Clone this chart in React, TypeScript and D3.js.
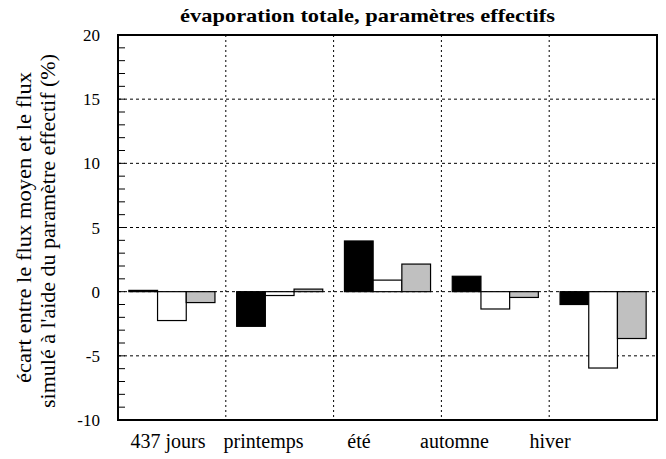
import React from "react";
import * as d3 from "d3";

const categories = ["437 jours", "printemps", "été", "automne", "hiver"];
const seriesNames = ["s1", "s2", "s3"];
const s1 = [0.1, -2.7, 3.95, 1.2, -1.0];
const s2 = [-2.25, -0.3, 0.9, -1.35, -5.95];
const s3 = [-0.85, 0.2, 2.15, -0.45, -3.65];
const majorTicks = [-10, -5, 0, 5, 10, 15, 20];
const gridY = [-5, 0, 5, 10, 15];
const fills = ["#000000", "#ffffff", "#c0c0c0"];

const W = 666, H = 459;
const L = 118, R = 657, T = 35, B = 420;
const serif = "Liberation Serif, Tinos, Times New Roman, DejaVu Serif, serif";

export default function App() {
  const x = d3.scaleBand<string>().domain(categories).range([L, R]).padding(0);
  const xi = d3.scaleBand<string>().domain(seriesNames).range([0, x.bandwidth()]).paddingInner(0).paddingOuter(0.378);
  const xl = d3.scalePoint<string>().domain(categories).range([168, 550]);
  const y = d3.scaleLinear().domain([-10, 20]).range([B, T]);
  const minor = d3.range(-10, 21, 1);
  const data = [s1, s2, s3];
  return (
    <svg width={W} height={H} style={{ position: "absolute", left: 0, top: 0 }} fontFamily={serif}>
      <rect x={0} y={0} width={W} height={H} fill="#fff" />
      <text x={367.5} y={22} textAnchor="middle" fontSize={19} fontWeight="bold" fontFamily={serif} textLength={375} lengthAdjust="spacingAndGlyphs">
        évaporation totale, paramètres effectifs
      </text>
      {gridY.map((v) => (
        <line key={"gy" + v} x1={L} x2={R} y1={y(v)} y2={y(v)} stroke="#000" strokeWidth={1} strokeDasharray="3,3" />
      ))}
      {categories.slice(1).map((c) => (
        <line key={"gx" + c} x1={x(c)!} x2={x(c)!} y1={T} y2={B} stroke="#000" strokeWidth={1} strokeDasharray="2,3" />
      ))}
      {categories.map((c, i) =>
        data.map((s, j) => {
          const v = s[i];
          const x0 = x(c)! + xi(seriesNames[j])!;
          return (
            <rect
              key={c + j}
              x={x0}
              y={Math.min(y(v), y(0))}
              width={xi.bandwidth()}
              height={Math.abs(y(v) - y(0))}
              fill={fills[j]}
              stroke="#000"
              strokeWidth={1.2}
            />
          );
        })
      )}
      {minor.map((v) => (
        <line key={"mt" + v} x1={L} x2={L + 7} y1={y(v)} y2={y(v)} stroke="#000" strokeWidth={1} />
      ))}
      <rect x={L} y={T} width={R - L} height={B - T} fill="none" stroke="#000" strokeWidth={2} />
      {majorTicks.map((v) => (
        <text key={"tl" + v} x={100} y={y(v) + 6} textAnchor="end" fontSize={17} fontFamily={serif}>
          {v}
        </text>
      ))}
      {categories.map((c) => (
        <text key={"xl" + c} x={xl(c)!} y={448} textAnchor="middle" fontSize={20} fontFamily={serif}>
          {c}
        </text>
      ))}
      <g transform={`rotate(-90)`}>
        <text x={-227.5} y={31} textAnchor="middle" fontSize={20} fontFamily={serif} textLength={311} lengthAdjust="spacingAndGlyphs">
          écart entre le flux moyen et le flux
        </text>
        <text x={-231} y={55} textAnchor="middle" fontSize={20} fontFamily={serif} textLength={354} lengthAdjust="spacingAndGlyphs">
          simulé à l'aide du paramètre effectif (%)
        </text>
      </g>
    </svg>
  );
}
